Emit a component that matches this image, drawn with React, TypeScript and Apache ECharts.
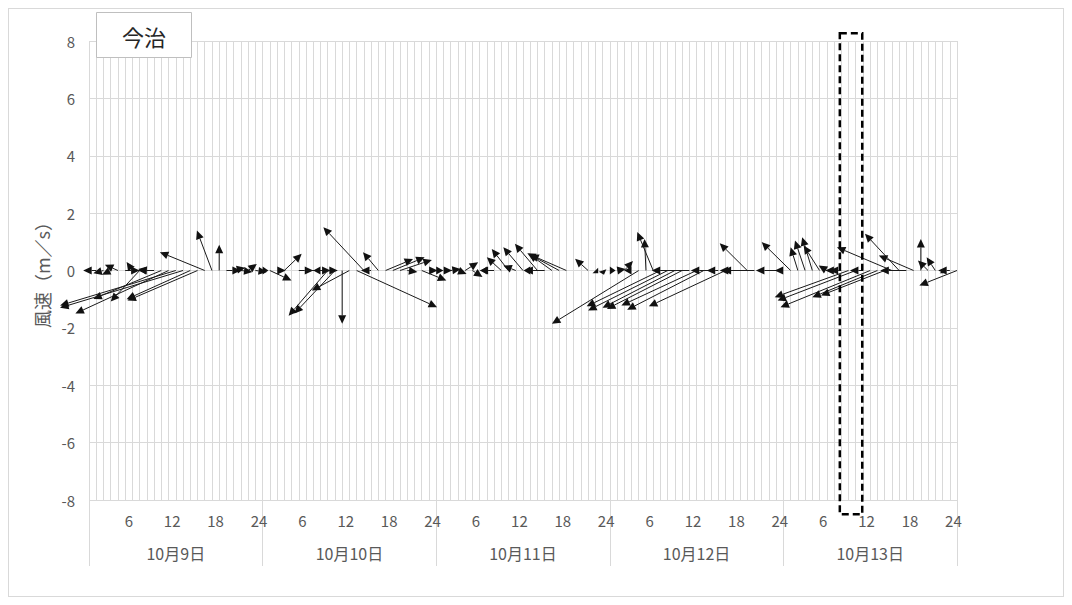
import React, { useEffect, useRef } from "react";
import * as echarts from "echarts";

// ---- data ----
const STATION = "今治";
const Y_NAME = "風速（m／s）";
const DAYS = ["10月9日", "10月10日", "10月11日", "10月12日", "10月13日"];
const HOURS_PER_DAY = 24;
const HOUR_TICKS = ["6", "12", "18", "24"];
const Y_MIN = -8;
const Y_MAX = 8;
const Y_STEP = 2;
// horizontal stretch of a vector: hours of x axis per 1 m/s of u
const U_SCALE = 4;

// east-west (u) and north-south (v) components, m/s, hours 1..24 of each day
const U_1009 = [-0.45, -0.35, -0.3, -0.45, 0.5, -0.2, -1.0, -0.3, -0.55, -2.35, -3.22, -4.0, -4.25, -2.2, -2.42, -1.55, -0.52, 0, 0.5, 0.4, 0.4, 0.3, 0.4, 0.2];
const V_1009 = [0, -0.1, -0.15, 0.2, 0, 0.3, -1.08, 0.05, 0, -0.99, -1.5, -1.22, -1.3, -1.0, -1.05, 0.64, 1.39, 0.9, 0, 0.1, -0.05, 0.23, -0.05, 0];
const U_1010 = [0.75, 0.3, 0.6, 0, 0.5, 1.1, 0.6, -0.25, -1.35, -1.4, 0, -1.3, 2.78, -1.4, -0.35, -0.53, 0.95, 1.1, 1.1, 0.35, 0, 0.85, 0.3, 0.25];
const V_1010 = [-0.35, 0, 0.58, 0, 0, 0, 0, 0, -1.58, -1.5, -1.86, -0.7, -1.28, 1.51, 0, 0.64, 0.4, 0.46, 0.37, -0.05, 0, -0.35, 0, 0];
const U_1011 = [0.3, 0.35, 0.3, 0.45, 0.35, 0, -0.2, -0.5, -0.5, -0.58, -0.43, -0.68, -0.23, -0.78, -0.7, -0.8, -1.1, -1.25, 0, 0, -0.45, 0.1, 0.05, 0.2];
const V_1011 = [0, 0.05, -0.12, 0.29, -0.23, 0, 0, 0, 0.46, 0.75, 0.17, 0.81, 0, 0.93, 0, 0.58, 0.6, 0.55, 0, 0, 0.41, -0.1, -0.15, 0];
const U_1012 = [0.3, 0.3, -0.25, -3.0, -0.05, -0.55, -2.55, -2.75, -2.5, -2.6, -1.3, -2.6, -2.65, -0.7, -0.4, -2.65, -0.45, 0, -0.95, -1.1, 0, 0, -0.7, -0.3];
const V_1012 = [0.05, 0.33, 0, -1.86, 1.1, 1.34, -1.25, -1.39, -1.3, -1.34, 0, -1.22, -1.37, 0, 0, -1.25, 0, 0, 0.95, 0, 0, 0, 0, 0];
const U_1013 = [-1.0, -0.25, -0.35, -0.35, -0.55, -0.28, -0.3, -0.4, -2.55, -2.7, -0.45, -3.1, -2.25, -2.2, -1.9, -1.18, -0.9, -1.2, 0, -0.35, -0.3, 0.1, -0.4, -1.3];
const V_1013 = [0.99, 0.81, 1.05, 1.16, 0.87, 0.17, 0, 0, -0.93, -1.05, 0, -1.28, -0.93, -0.87, 0.81, 1.28, 0, 0.52, 1.1, 0.35, 0.46, -0.1, 0, -0.52];

const U_BY_DAY = [U_1009, U_1010, U_1011, U_1012, U_1013];
const V_BY_DAY = [V_1009, V_1010, V_1011, V_1012, V_1013];

// highlighted period (hours from start of 10月9日)
const HIGHLIGHT_FROM = 103.8;
const HIGHLIGHT_TO = 106.9;

const FONT = '"Noto Sans CJK JP", "Noto Sans", sans-serif';
const AXIS_TEXT = "#595959";
const GRID_COLOR = "#d9d9d9";

export default function App() {
  const ref = useRef<HTMLDivElement>(null);

  useEffect(() => {
    if (!ref.current) return;
    const chart = echarts.init(ref.current, undefined, { renderer: "svg" });

    const hourCats: string[] = [];
    DAYS.forEach(() => {
      for (let k = 1; k <= HOURS_PER_DAY; k++) hourCats.push(String(k));
    });

    const vectors: number[][] = [];
    U_BY_DAY.forEach((us, d) => {
      us.forEach((u, i) => {
        const v = V_BY_DAY[d][i];
        if (u !== 0 || v !== 0) vectors.push([d * HOURS_PER_DAY + i + 1, u, v]);
      });
    });
    const total = DAYS.length * HOURS_PER_DAY;

    const option: any = {
      animation: false,
      textStyle: { fontFamily: FONT },
      grid: { left: 80, top: 32, width: 868, height: 459, containLabel: false },
      xAxis: [
        {
          type: "category",
          data: hourCats,
          boundaryGap: true,
          position: "bottom",
          axisLine: { show: true, lineStyle: { color: GRID_COLOR, width: 1 } },
          axisTick: { show: false, interval: 0 },
          axisLabel: {
            interval: (_i: number, val: string) => HOUR_TICKS.includes(val),
            color: AXIS_TEXT,
            fontSize: 15,
            fontFamily: FONT,
            margin: 13,
          },
          splitLine: { show: true, interval: 0, lineStyle: { color: GRID_COLOR, width: 1 } },
        },
        {
          type: "value",
          min: 0,
          max: total,
          show: false,
          splitLine: { show: false },
        },
        {
          type: "category",
          data: DAYS,
          boundaryGap: true,
          position: "bottom",
          axisLine: { show: false },
          axisTick: { show: true, length: 66, interval: 0, lineStyle: { color: GRID_COLOR, width: 1 } },
          axisLabel: { color: AXIS_TEXT, fontSize: 16, fontFamily: FONT, margin: 45, interval: 0 },
          splitLine: { show: false },
        },
      ],
      yAxis: {
        type: "value",
        min: Y_MIN,
        max: Y_MAX,
        interval: Y_STEP,
        name: Y_NAME,
        nameLocation: "middle",
        nameRotate: 90,
        nameGap: 36,
        nameTextStyle: { color: AXIS_TEXT, fontSize: 18, fontFamily: FONT },
        axisLine: { show: false },
        axisTick: { show: false },
        axisLabel: { color: AXIS_TEXT, fontSize: 15, fontFamily: FONT, margin: 14 },
        splitLine: { show: true, lineStyle: { color: GRID_COLOR, width: 1 } },
      },
      series: [
        {
          type: "custom",
          xAxisIndex: 1,
          yAxisIndex: 0,
          clip: false,
          data: vectors,
          z: 5,
          renderItem: (_params: any, api: any) => {
            const h = api.value(0);
            const u = api.value(1);
            const v = api.value(2);
            const p0 = api.coord([h, 0]);
            const p1 = api.coord([h + u * U_SCALE, v]);
            const dx = p1[0] - p0[0];
            const dy = p1[1] - p0[1];
            const len = Math.hypot(dx, dy);
            if (len < 0.5) return { type: "group", children: [] };
            const ux = dx / len;
            const uy = dy / len;
            const L = Math.min(8.5, len);
            const W = 4;
            const bx = p1[0] - ux * L;
            const by = p1[1] - uy * L;
            const px = -uy;
            const py = ux;
            return {
              type: "group",
              children: [
                {
                  type: "line",
                  shape: { x1: p0[0], y1: p0[1], x2: bx, y2: by },
                  style: { stroke: "#1a1a1a", lineWidth: 1 },
                },
                {
                  type: "polygon",
                  shape: {
                    points: [
                      [p1[0], p1[1]],
                      [bx + px * W, by + py * W],
                      [bx - px * W, by - py * W],
                    ],
                  },
                  style: { fill: "#111111", stroke: "none" },
                },
              ],
            };
          },
        },
        {
          type: "custom",
          xAxisIndex: 1,
          yAxisIndex: 0,
          clip: false,
          silent: true,
          z: 6,
          data: [[HIGHLIGHT_FROM, HIGHLIGHT_TO]],
          renderItem: (_params: any, api: any) => {
            const a = api.coord([api.value(0), Y_MAX + 0.27]);
            const b = api.coord([api.value(1), Y_MIN - 0.5]);
            return {
              type: "rect",
              shape: { x: a[0], y: a[1], width: b[0] - a[0], height: b[1] - a[1] },
              style: { fill: "none", stroke: "#000", lineWidth: 2.5, lineDash: [7, 4] },
            };
          },
        },
      ],
      graphic: [
        {
          type: "group",
          left: 87,
          top: 3,
          z: 100,
          children: [
            {
              type: "rect",
              z: 100,
              shape: { x: 0, y: 0, width: 95, height: 45 },
              style: { fill: "#ffffff", stroke: "#bfbfbf", lineWidth: 1 },
            },
            {
              type: "text",
              z: 101,
              x: 47.5,
              y: 23,
              style: {
                text: STATION,
                fill: "#262626",
                font: `22px ${FONT}`,
                align: "center",
                verticalAlign: "middle",
              },
            },
          ],
        },
      ],
    };

    chart.setOption(option);
    return () => chart.dispose();
  }, []);

  return (
    <div
      style={{
        width: 1056,
        height: 589,
        border: "1px solid #d9d9d9",
        boxSizing: "border-box",
        background: "#fff",
      }}
    >
      <div ref={ref} style={{ width: 1054, height: 587 }} />
    </div>
  );
}
